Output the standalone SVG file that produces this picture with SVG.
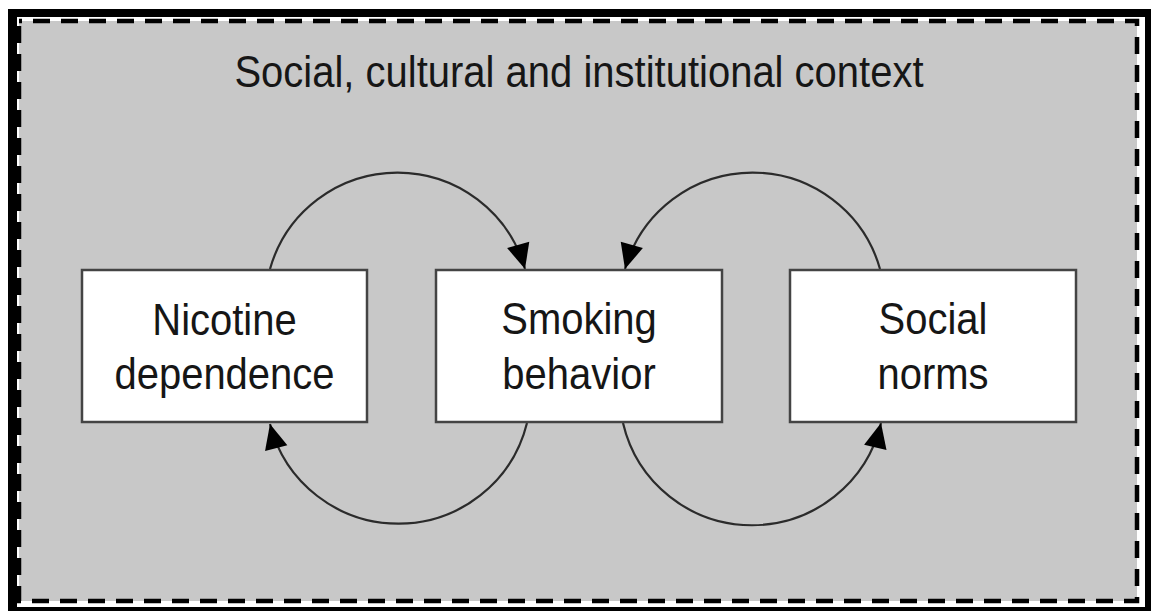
<svg xmlns="http://www.w3.org/2000/svg" width="1151" height="611" viewBox="0 0 1151 611">
  <style>
    .lbl { font-family: "Liberation Sans", Arial, Helvetica, sans-serif; font-size: 40px; fill: #161616; text-anchor: middle; }
    .box { fill: #ffffff; stroke: #444444; stroke-width: 2.5; }
    .arc { fill: none; stroke: #2b2b2b; stroke-width: 2.2; marker-end: url(#ah); }
  </style>
  <defs>
    <marker id="ah" markerUnits="userSpaceOnUse" markerWidth="26" markerHeight="24" refX="25" refY="11.5" orient="auto" overflow="visible">
      <path d="M0,0 L25,11.5 L0,23 z" fill="#000000"/>
    </marker>
  </defs>
  <rect width="1151" height="611" fill="#ffffff"/>
  <g id="frame">
    <rect x="8" y="9" width="1143" height="602" fill="#000000"/>
    <rect x="17" y="17" width="1128" height="590" fill="#ffffff"/>
    <rect x="19" y="21" width="1118" height="580" fill="#c8c8c8" stroke="#000000" stroke-width="4.5" stroke-dasharray="17 11" stroke-dashoffset="-14"/>
    <text class="lbl" transform="translate(579,87) scale(1,1.09)">Social, cultural and institutional context</text>
  </g>
  <g id="connectors">
    <path class="arc" d="M270,269 A132.5,132.5 0 0 1 525,269"/>
    <path class="arc" d="M880,269 A132.5,132.5 0 0 0 625,269"/>
    <path class="arc" d="M527,423 A132.5,132.5 0 0 1 270,424"/>
    <path class="arc" d="M623,423 A132.5,132.5 0 0 0 881,423"/>
  </g>
  <g id="nicotine">
    <rect class="box" x="82" y="270" width="285" height="152"/>
    <text class="lbl" transform="translate(224.5,335) scale(1,1.1)">Nicotine</text>
    <text class="lbl" transform="translate(224.5,389) scale(1,1.1)">dependence</text>
  </g>
  <g id="smoking">
    <rect class="box" x="436" y="270" width="286" height="152"/>
    <text class="lbl" transform="translate(579,334) scale(1,1.1)">Smoking</text>
    <text class="lbl" transform="translate(579,389) scale(1,1.1)">behavior</text>
  </g>
  <g id="norms">
    <rect class="box" x="790" y="270" width="286" height="152"/>
    <text class="lbl" transform="translate(933,334) scale(1,1.1)">Social</text>
    <text class="lbl" transform="translate(933,389) scale(1,1.1)">norms</text>
  </g>
</svg>
